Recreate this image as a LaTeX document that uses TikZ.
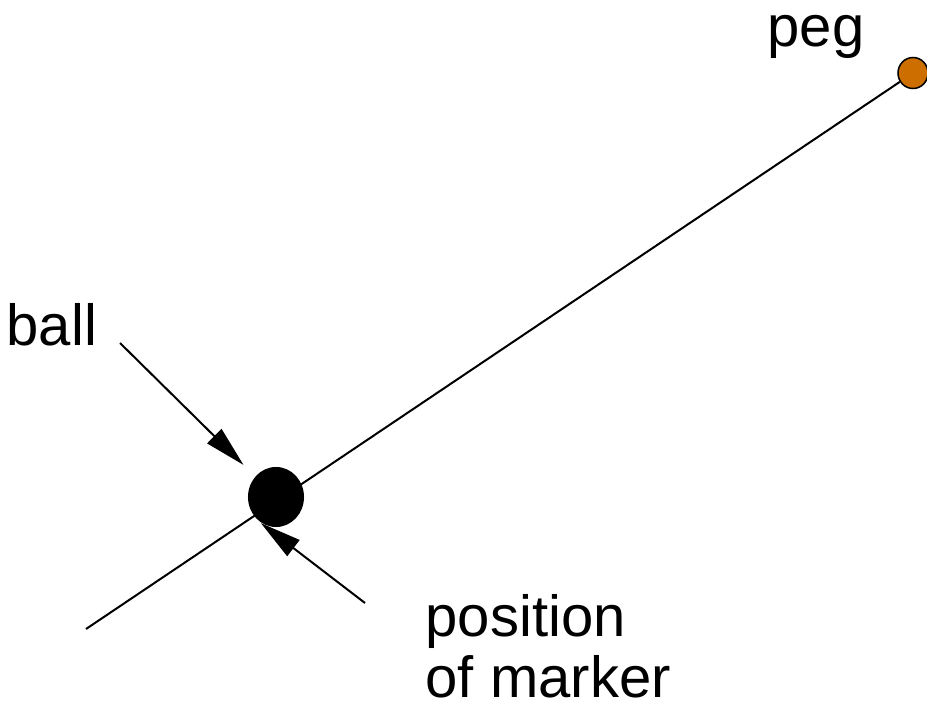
\documentclass[tikz,border=0pt]{standalone}
\usepackage{fontspec}
\setmainfont{Liberation Sans}
\usetikzlibrary{arrows.meta,positioning,shapes.geometric}
\definecolor{rust}{RGB}{204,110,0}
\tikzset{
  lbl/.style={font=\fontsize{16.5}{17.1}\selectfont,inner sep=0pt,anchor=base west,align=left},
  pointer/.style={-{Triangle[length=0.41cm,width=0.2cm]},line width=0.02cm},
}

\begin{document}
\begin{tikzpicture}[x=0.01cm,y=-0.01cm]
  \useasboundingbox (0,0) rectangle (927,718);
  % peg and the string to the ball
  \node[ellipse,fill=rust,draw,line width=0.015cm,minimum width=0.3cm,minimum height=0.31cm,inner sep=0pt] (peg) at (913,73) {};
  \coordinate (tail) at (86,629);
  \draw[line width=0.02cm] (tail) -- (peg);
  \node[ellipse,fill=black,minimum width=0.56cm,minimum height=0.6cm,inner sep=0pt] (ball) at (276,497) {};
  % labels
  \node[lbl] (pegtxt) at (767,47) {peg};
  \node[lbl] (balltxt) at (6,345) {ball};
  \node[lbl] (markertxt) at (425,697) {position\\of marker};
  % pointers
  \coordinate (ballfrom) at (120,343);
  \coordinate (markerfrom) at (365,603);
  \draw[pointer,shorten >=0.16cm] (ballfrom) -- (ball);
  \draw[pointer] (markerfrom) -- (ball.240);
\end{tikzpicture}
\end{document}
